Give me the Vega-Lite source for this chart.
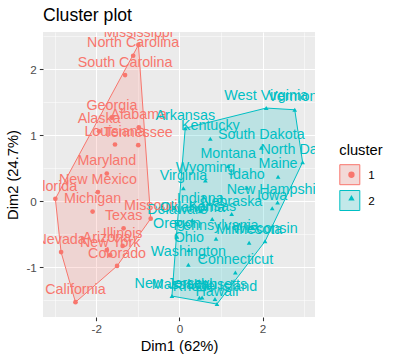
{
  "$schema": "https://vega.github.io/schema/vega-lite/v6.json",
  "autosize": {"type": "none"},
  "width": 272,
  "height": 285,
  "padding": {"left": 43, "top": 32, "right": 81, "bottom": 46},
  "background": "white",
  "title": {"text": "Cluster plot", "anchor": "start", "frame": "group", "font": "Liberation Sans", "fontSize": 17.6, "fontWeight": "normal", "color": "black", "baseline": "alphabetic", "offset": 11, "dy": 18},
  "config": {
    "view": {"fill": "#EBEBEB", "stroke": null},
    "font": "Liberation Sans",
    "axis": {"domain": false, "gridColor": "white", "tickColor": "#333333", "tickSize": 3.7, "tickWidth": 1.07, "labelColor": "#4D4D4D", "labelFontSize": 11.7, "labelFont": "Liberation Sans", "titleFont": "Liberation Sans", "titleFontSize": 14.7, "titleFontWeight": "normal", "titleColor": "black"},
    "legend": {"titleFont": "Liberation Sans", "labelFont": "Liberation Sans", "titleFontSize": 14.7, "titleFontWeight": "normal", "labelFontSize": 11.7, "titleColor": "black", "labelColor": "black"}
  },
  "datasets": {
    "states": [
      {"state": "Alabama", "dim1": -0.976, "dim2": 1.122, "cluster": "1"},
      {"state": "Alaska", "dim1": -1.931, "dim2": 1.062, "cluster": "1"},
      {"state": "Arizona", "dim1": -1.745, "dim2": -0.738, "cluster": "1"},
      {"state": "Arkansas", "dim1": 0.140, "dim2": 1.109, "cluster": "2"},
      {"state": "California", "dim1": -2.499, "dim2": -1.527, "cluster": "1"},
      {"state": "Colorado", "dim1": -1.499, "dim2": -0.978, "cluster": "1"},
      {"state": "Connecticut", "dim1": 1.345, "dim2": -1.078, "cluster": "2"},
      {"state": "Delaware", "dim1": -0.047, "dim2": -0.322, "cluster": "2"},
      {"state": "Florida", "dim1": -2.983, "dim2": 0.039, "cluster": "1"},
      {"state": "Georgia", "dim1": -1.623, "dim2": 1.266, "cluster": "1"},
      {"state": "Hawaii", "dim1": 0.903, "dim2": -1.555, "cluster": "2"},
      {"state": "Idaho", "dim1": 1.623, "dim2": 0.209, "cluster": "2"},
      {"state": "Illinois", "dim1": -1.365, "dim2": -0.675, "cluster": "1"},
      {"state": "Indiana", "dim1": 0.500, "dim2": -0.150, "cluster": "2"},
      {"state": "Iowa", "dim1": 2.231, "dim2": -0.103, "cluster": "2"},
      {"state": "Kansas", "dim1": 0.789, "dim2": -0.267, "cluster": "2"},
      {"state": "Kentucky", "dim1": 0.743, "dim2": 0.949, "cluster": "2"},
      {"state": "Louisiana", "dim1": -1.549, "dim2": 0.862, "cluster": "1"},
      {"state": "Maine", "dim1": 2.372, "dim2": 0.373, "cluster": "2"},
      {"state": "Maryland", "dim1": -1.746, "dim2": 0.423, "cluster": "1"},
      {"state": "Massachusetts", "dim1": 0.481, "dim2": -1.460, "cluster": "2"},
      {"state": "Michigan", "dim1": -2.087, "dim2": -0.154, "cluster": "1"},
      {"state": "Minnesota", "dim1": 1.676, "dim2": -0.626, "cluster": "2"},
      {"state": "Mississippi", "dim1": -0.986, "dim2": 2.370, "cluster": "1"},
      {"state": "Missouri", "dim1": -0.690, "dim2": -0.261, "cluster": "1"},
      {"state": "Montana", "dim1": 1.173, "dim2": 0.537, "cluster": "2"},
      {"state": "Nebraska", "dim1": 1.256, "dim2": -0.192, "cluster": "2"},
      {"state": "Nevada", "dim1": -2.845, "dim2": -0.768, "cluster": "1"},
      {"state": "New Hampshire", "dim1": 2.360, "dim2": -0.018, "cluster": "2"},
      {"state": "New Jersey", "dim1": -0.180, "dim2": -1.434, "cluster": "2"},
      {"state": "New Mexico", "dim1": -1.960, "dim2": 0.141, "cluster": "1"},
      {"state": "New York", "dim1": -1.666, "dim2": -0.815, "cluster": "1"},
      {"state": "North Carolina", "dim1": -1.112, "dim2": 2.206, "cluster": "1"},
      {"state": "North Dakota", "dim1": 2.962, "dim2": 0.593, "cluster": "2"},
      {"state": "Ohio", "dim1": 0.224, "dim2": -0.735, "cluster": "2"},
      {"state": "Oklahoma", "dim1": 0.309, "dim2": -0.285, "cluster": "2"},
      {"state": "Oregon", "dim1": -0.059, "dim2": -0.536, "cluster": "2"},
      {"state": "Pennsylvania", "dim1": 0.880, "dim2": -0.565, "cluster": "2"},
      {"state": "Rhode Island", "dim1": 0.855, "dim2": -1.477, "cluster": "2"},
      {"state": "South Carolina", "dim1": -1.307, "dim2": 1.914, "cluster": "1"},
      {"state": "South Dakota", "dim1": 1.968, "dim2": 0.815, "cluster": "2"},
      {"state": "Tennessee", "dim1": -0.990, "dim2": 0.852, "cluster": "1"},
      {"state": "Texas", "dim1": -1.342, "dim2": -0.408, "cluster": "1"},
      {"state": "Utah", "dim1": 0.545, "dim2": -1.457, "cluster": "2"},
      {"state": "Vermont", "dim1": 2.773, "dim2": 1.388, "cluster": "2"},
      {"state": "Virginia", "dim1": 0.095, "dim2": 0.198, "cluster": "2"},
      {"state": "Washington", "dim1": 0.215, "dim2": -0.960, "cluster": "2"},
      {"state": "West Virginia", "dim1": 2.087, "dim2": 1.414, "cluster": "2"},
      {"state": "Wisconsin", "dim1": 2.059, "dim2": -0.605, "cluster": "2"},
      {"state": "Wyoming", "dim1": 0.624, "dim2": 0.318, "cluster": "2"}
    ],
    "hull": [
      {"cluster": "1", "idx": 1, "dim1": -0.986, "dim2": 2.370},
      {"cluster": "1", "idx": 2, "dim1": -2.983, "dim2": 0.039},
      {"cluster": "1", "idx": 3, "dim1": -2.845, "dim2": -0.768},
      {"cluster": "1", "idx": 4, "dim1": -2.499, "dim2": -1.527},
      {"cluster": "1", "idx": 5, "dim1": -1.499, "dim2": -0.978},
      {"cluster": "1", "idx": 6, "dim1": -0.690, "dim2": -0.261},
      {"cluster": "1", "idx": 7, "dim1": -0.986, "dim2": 2.370},
      {"cluster": "2", "idx": 1, "dim1": 0.140, "dim2": 1.109},
      {"cluster": "2", "idx": 2, "dim1": 2.087, "dim2": 1.414},
      {"cluster": "2", "idx": 3, "dim1": 2.773, "dim2": 1.388},
      {"cluster": "2", "idx": 4, "dim1": 2.962, "dim2": 0.593},
      {"cluster": "2", "idx": 5, "dim1": 2.059, "dim2": -0.605},
      {"cluster": "2", "idx": 6, "dim1": 0.903, "dim2": -1.555},
      {"cluster": "2", "idx": 7, "dim1": -0.180, "dim2": -1.434},
      {"cluster": "2", "idx": 8, "dim1": -0.047, "dim2": -0.322},
      {"cluster": "2", "idx": 9, "dim1": 0.140, "dim2": 1.109}
    ]
  },
  "encoding": {
    "x": {"field": "dim1", "type": "quantitative", "title": "Dim1 (62%)",
      "scale": {"domain": [-3.280, 3.260], "nice": false, "zero": false},
      "axis": {"values": [-3, -2, -1, 0, 1, 2, 3],
        "labelExpr": "datum.value % 2 === 0 ? '' + datum.value : ''",
        "gridWidth": {"condition": {"test": "datum.value % 2 !== 0", "value": 0.53}, "value": 1.07},
        "tickOpacity": {"condition": {"test": "datum.value % 2 !== 0", "value": 0}, "value": 1},
        "labelPadding": 3, "titlePadding": 3, "labelFlush": false, "labelOverlap": false}},
    "y": {"field": "dim2", "type": "quantitative", "title": "Dim2 (24.7%)",
      "scale": {"domain": [-1.751, 2.566], "nice": false, "zero": false},
      "axis": {"values": [-1.5, -1, -0.5, 0, 0.5, 1, 1.5, 2, 2.5],
        "labelExpr": "datum.value % 1 === 0 ? '' + datum.value : ''",
        "gridWidth": {"condition": {"test": "datum.value % 1 !== 0", "value": 0.53}, "value": 1.07},
        "tickOpacity": {"condition": {"test": "datum.value % 1 !== 0", "value": 0}, "value": 1},
        "labelPadding": 3, "titlePadding": 5, "labelFlush": false, "labelOverlap": false}}
  },
  "layer": [
    {
      "data": {"name": "states"},
      "mark": {"type": "point", "filled": true, "opacity": 1, "size": 22, "strokeWidth": 0},
      "encoding": {
        "fill": {"field": "cluster", "type": "nominal", "scale": {"domain": ["1", "2"], "range": ["#F8766D", "#00BFC4"]},
          "legend": {"title": null, "orient": "none", "legendX": 302.6, "legendY": 136.9, "symbolSize": 40, "rowPadding": 10.1, "labelExpr": "' '", "zindex": 2}},
        "shape": {"field": "cluster", "type": "nominal", "scale": {"domain": ["1", "2"], "range": ["circle", "triangle-up"]},
          "legend": {"title": null, "orient": "none", "legendX": 302.6, "legendY": 136.9, "symbolSize": 40, "rowPadding": 10.1, "labelExpr": "' '", "zindex": 2}}
      }
    },
    {
      "data": {"name": "hull"},
      "mark": {"type": "line", "fillOpacity": 0.2, "strokeWidth": 1, "interpolate": "linear"},
      "encoding": {
        "order": {"field": "idx", "type": "quantitative"},
        "fill": {"field": "cluster", "type": "nominal"},
        "stroke": {"field": "cluster", "type": "nominal", "scale": {"range": ["#F8766D", "#00BFC4"]},
          "legend": {"title": "cluster", "orient": "none", "legendX": 296.3, "legendY": 110.7, "symbolType": "square", "symbolSize": 400, "titlePadding": 6.8, "rowPadding": 0.8, "labelOffset": 8, "zindex": 1,
            "symbolFillColor": "#F3D9D7", "symbolOpacity": 1, "symbolStrokeWidth": 1,
            "encode": {"symbols": {"update": {
              "fill": [{"test": "datum.value === '2'", "value": "#C2E8E9"}, {"value": "#F3D9D7"}],
              "fillOpacity": {"value": 1}}}}}}
      }
    },
    {
      "data": {"name": "states"},
      "mark": {"type": "text", "fontSize": 14.3, "font": "Liberation Sans", "baseline": "middle", "align": "center", "dy": -12.3, "clip": true},
      "encoding": {
        "text": {"field": "state"},
        "fill": {"field": "cluster", "type": "nominal"}
      }
    }
  ]
}
